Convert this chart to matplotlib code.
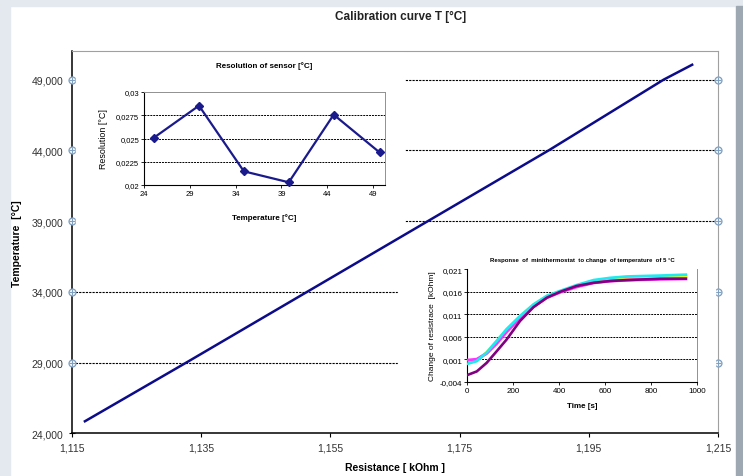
import numpy as np
import matplotlib
matplotlib.use("Agg")
import matplotlib.pyplot as plt
from matplotlib.patches import Rectangle
from matplotlib.ticker import FuncFormatter, FixedLocator

plt.rcParams['font.family'] = ['Liberation Sans', 'DejaVu Sans']

# main calibration curve (resistance kOhm -> temperature degC)
calib_r = [1.117, 1.1327, 1.1514, 1.1701, 1.1888, 1.2066, 1.211]
calib_t = [24.85, 29.0, 34.0, 39.0, 44.0, 49.0, 50.05]

# inset 1: resolution of sensor
res_temp = [25.1, 30.0, 34.9, 39.8, 44.7, 49.7]
res_val = [0.0251, 0.02853, 0.02147, 0.02029, 0.02756, 0.02351]

# inset 2: response of minithermostat (time s, change of resistance kOhm)
resp_time = [0, 41, 84, 128, 171, 229, 288, 346, 404, 476, 549, 622, 694, 840, 950]
resp_cyan = [0.0000, 0.0006, 0.0025, 0.0051, 0.0077, 0.0106, 0.0132, 0.0151,
             0.0162, 0.0175, 0.0186, 0.0191, 0.0194, 0.0196, 0.0198]
resp_yellow = [0.0001, 0.0007, 0.0025, 0.0050, 0.0076, 0.0105, 0.0131, 0.0150,
               0.0161, 0.0173, 0.0183, 0.0188, 0.0191, 0.0193, 0.0195]
resp_magenta = [0.0008, 0.0010, 0.0023, 0.0045, 0.0071, 0.0101, 0.0127, 0.0147,
                0.0159, 0.0171, 0.0180, 0.0184, 0.0186, 0.0188, 0.0189]
resp_purple = [-0.0025, -0.0017, 0.0002, 0.0028, 0.0054, 0.0095, 0.0126, 0.0147,
               0.0160, 0.0173, 0.0180, 0.0184, 0.0186, 0.0189, 0.0189]

main_xticks = [1.115, 1.135, 1.155, 1.175, 1.195, 1.215]
main_yticks = [24, 29, 34, 39, 44, 49]
res_xticks = [24, 29, 34, 39, 44, 49]
res_yticks = [0.02, 0.0225, 0.025, 0.0275, 0.03]
resp_xticks = [0, 200, 400, 600, 800, 1000]
resp_yticks = [-0.004, 0.001, 0.006, 0.011, 0.016, 0.021]

W, H = 743, 477
fig = plt.figure(figsize=(W / 100, H / 100), dpi=100)
fig.patch.set_facecolor('white')


def box(x0, y0, x1, y1):
    # pixel box (top-left origin) -> figure fraction rect
    return [x0 / W, 1 - y1 / H, (x1 - x0) / W, (y1 - y0) / H]


def comma(fmt):
    return FuncFormatter(lambda v, p: (fmt % v).replace('.', ','))


def general(v, p):
    s = ('%.4f' % v).rstrip('0').rstrip('.')
    return s.replace('.', ',')


# window frame around the chart
fig.patches.append(Rectangle((0, 0), 10 / W, 1, transform=fig.transFigure,
                             color='#e3e9ef', zorder=-5))
fig.patches.append(Rectangle((0, 1 - 7 / H), 1, 7 / H, transform=fig.transFigure,
                             color='#e3e9ef', zorder=-5))
fig.patches.append(Rectangle((736 / W, 0), 7 / W, 1 - 7 / H, transform=fig.transFigure,
                             color='#9ea8b2', zorder=-5))

# ---- main chart ----
ax = fig.add_axes(box(72, 52.3, 718, 434.3))
ax.set_xlim(1.115, 1.215)
ax.set_ylim(24, 51)
for y in main_yticks[1:]:
    ax.axhline(y, color='black', lw=0.8, ls=(0, (2, 1)), zorder=1)
ax.plot(calib_r, calib_t, color='#0c0c8a', lw=1.8, zorder=3)
ax.xaxis.set_major_locator(FixedLocator(main_xticks))
ax.yaxis.set_major_locator(FixedLocator(main_yticks))
ax.xaxis.set_major_formatter(comma('%.3f'))
ax.yaxis.set_major_formatter(comma('%.3f'))
ax.tick_params(axis='both', labelsize=7.5, labelcolor='#333333', length=3, width=0.8)
ax.tick_params(axis='y', direction='inout', length=5)
for s in ['top', 'right']:
    ax.spines[s].set_color('#a0a0a0')
    ax.spines[s].set_linewidth(0.8)
for s in ['left', 'bottom']:
    ax.spines[s].set_linewidth(1.1)
ax.set_xlabel('Resistance [ kOhm ]', fontsize=7.5, fontweight='bold', labelpad=7)
ax.set_ylabel('Temperature  [°C]', fontsize=7.5, fontweight='bold', labelpad=7)
# excel handle markers on both sides
for xpos in [1.115, 1.215]:
    ax.plot([xpos] * 5, main_yticks[1:], 'o', ms=5, mfc='#eef3f8', mec='#7f9fbf',
            mew=0.9, clip_on=False, zorder=6)
    ax.plot([xpos] * 5, main_yticks[1:], '+', ms=5, mec='#7f9fbf', mew=0.7,
            clip_on=False, zorder=7)

fig.text(401 / W, 1 - 17 / H, 'Calibration curve T [°C]', ha='center', va='center',
         fontsize=8.5, fontweight='bold', color='#222222')

# white areas behind insets
fig.patches.append(Rectangle(box(76, 54, 404, 228)[:2], 328 / W, 174 / H,
                             transform=fig.transFigure, color='white', zorder=1))
fig.patches.append(Rectangle(box(398, 248, 715, 428)[:2], 317 / W, 180 / H,
                             transform=fig.transFigure, color='white', zorder=1))

# ---- inset 1: resolution ----
ax1 = fig.add_axes(box(144, 93, 385, 186), zorder=2)
ax1.set_xlim(24, 50.3)
ax1.set_ylim(0.02, 0.03)
for y in res_yticks[1:-1]:
    ax1.axhline(y, color='black', lw=0.7, ls=(0, (2, 1)), zorder=1)
ax1.plot(res_temp, res_val, color='#1a1a8c', lw=1.6, marker='D', ms=4, zorder=3,
         clip_on=False)
ax1.xaxis.set_major_locator(FixedLocator(res_xticks))
ax1.yaxis.set_major_locator(FixedLocator(res_yticks))
ax1.yaxis.set_major_formatter(FuncFormatter(general))
ax1.tick_params(labelsize=5.5, length=2, width=0.6, pad=1.5)
for s in ['top', 'right']:
    ax1.spines[s].set_color('#909090')
    ax1.spines[s].set_linewidth(0.7)
for s in ['left', 'bottom']:
    ax1.spines[s].set_linewidth(0.8)
ax1.set_title('Resolution of sensor [°C]', fontsize=5.8, fontweight='bold', pad=18)
ax1.set_xlabel('Temperature [°C]', fontsize=5.8, fontweight='bold', labelpad=12)
ax1.set_ylabel('Resolution [°C]', fontsize=6.4, labelpad=6)

# ---- inset 2: response ----
ax2 = fig.add_axes(box(467.3, 270.3, 697.3, 382.8), zorder=2)
ax2.set_xlim(0, 1000)
ax2.set_ylim(-0.004, 0.021)
for y in resp_yticks[1:-1]:
    ax2.axhline(y, color='black', lw=0.7, ls=(0, (2, 1)), zorder=1)
ax2.plot(resp_time, resp_yellow, color='#ffff00', lw=2.2, zorder=2)
ax2.plot(resp_time, resp_magenta, color='#ff33ff', lw=2.2, zorder=3)
ax2.plot(resp_time, resp_cyan, color='#22e8f0', lw=2.0, zorder=4)
ax2.plot(resp_time, resp_purple, color='#800080', lw=1.9, zorder=5)
ax2.xaxis.set_major_locator(FixedLocator(resp_xticks))
ax2.yaxis.set_major_locator(FixedLocator(resp_yticks))
ax2.yaxis.set_major_formatter(comma('%.3f'))
ax2.tick_params(labelsize=5.8, length=2, width=0.6, pad=1.5)
ax2.spines['top'].set_visible(False)
ax2.spines['right'].set_color('#909090')
ax2.spines['right'].set_linewidth(0.7)
for s in ['left', 'bottom']:
    ax2.spines[s].set_linewidth(0.8)
ax2.set_title('Response  of  minithermostat  to change  of temperature  of 5 °C',
              fontsize=4.3, fontweight='bold', pad=6)
ax2.set_xlabel('Time [s]', fontsize=5.8, fontweight='bold', labelpad=6)
ax2.set_ylabel('Change of resistrace  [kOhm]', fontsize=6, labelpad=3)

fig.savefig('out.png', dpi=100, facecolor=fig.get_facecolor())
